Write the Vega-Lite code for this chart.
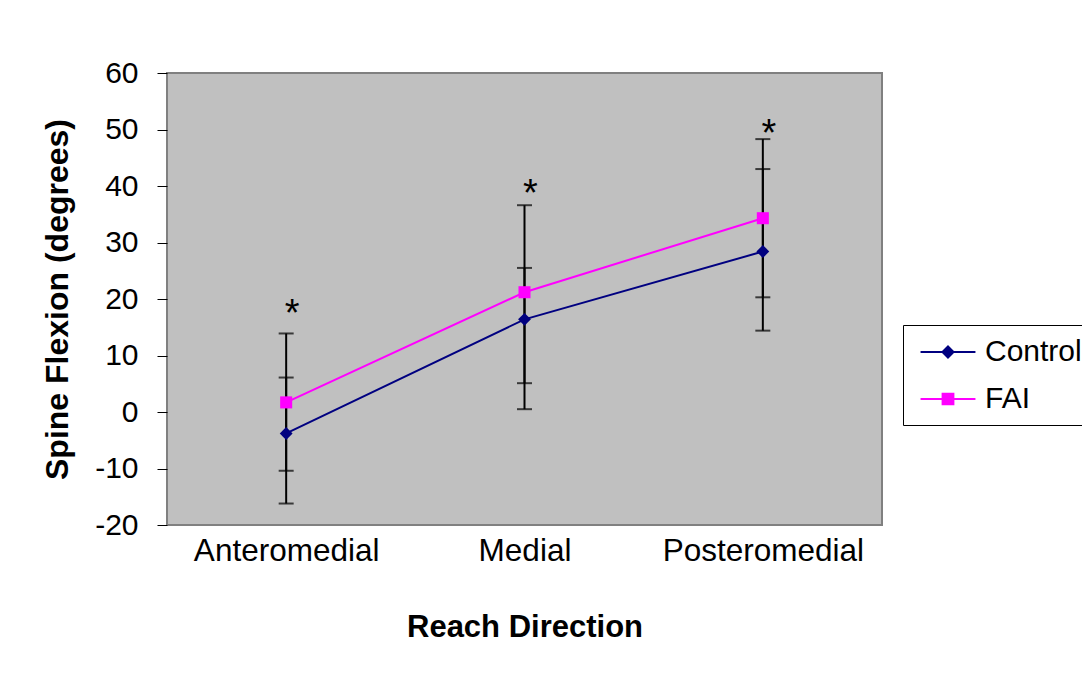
{
  "$schema": "https://vega.github.io/schema/vega-lite/v6.json",
  "width": 715,
  "height": 452,
  "autosize": {"type": "none"},
  "padding": {"left": 167, "top": 73, "right": 200, "bottom": 167},
  "background": "white",
  "config": {
    "font": "Liberation Sans",
    "view": {"fill": "#C0C0C0", "stroke": "#808080", "strokeWidth": 2},
    "axis": {
      "labelFont": "Liberation Sans",
      "titleFont": "Liberation Sans",
      "labelColor": "black",
      "titleColor": "black",
      "grid": false,
      "labelLimit": 0
    },
    "legend": {
      "orient": "none",
      "legendX": 736,
      "legendY": 252,
      "labelFontSize": 30,
      "labelFont": "Liberation Sans",
      "labelColor": "black",
      "strokeColor": "black",
      "fillColor": "white",
      "padding": 11,
      "symbolSize": 900,
      "symbolStrokeWidth": 2,
      "symbolOpacity": 1,
      "rowPadding": 16,
      "labelOffset": 39
    }
  },
  "datasets": {
    "means": [
      {"direction": "Anteromedial", "group": "Control", "mean": -3.8, "lo": -16.2, "hi": 6.1},
      {"direction": "Anteromedial", "group": "FAI", "mean": 1.7, "lo": -10.4, "hi": 13.9},
      {"direction": "Medial", "group": "Control", "mean": 16.4, "lo": 0.5, "hi": 25.5},
      {"direction": "Medial", "group": "FAI", "mean": 21.2, "lo": 5.1, "hi": 36.6},
      {"direction": "Posteromedial", "group": "Control", "mean": 28.4, "lo": 14.4, "hi": 43.0},
      {"direction": "Posteromedial", "group": "FAI", "mean": 34.3, "lo": 20.3, "hi": 48.3}
    ],
    "stars": [
      {"direction": "Anteromedial", "sig": "*", "at": 18.6},
      {"direction": "Medial", "sig": "*", "at": 39.9},
      {"direction": "Posteromedial", "sig": "*", "at": 50.4}
    ]
  },
  "data": {"name": "means"},
  "encoding": {
    "x": {
      "field": "direction",
      "type": "nominal",
      "scale": {"type": "point", "padding": 0.5, "domain": ["Anteromedial", "Medial", "Posteromedial"]},
      "axis": {
        "title": "Reach Direction",
        "labelAngle": 0,
        "labelFontSize": 31.5,
        "labelPadding": 10,
        "ticks": false,
        "domain": false,
        "titleFontSize": 31,
        "titleFontWeight": "bold",
        "titlePadding": 46
      }
    }
  },
  "layer": [
    {
      "mark": {"type": "rule", "color": "black", "strokeWidth": 2},
      "encoding": {
        "y": {
          "field": "lo",
          "type": "quantitative",
          "scale": {"domain": [-20, 60], "nice": false, "zero": false},
          "axis": {
            "title": "Spine Flexion (degrees)",
            "values": [-20, -10, 0, 10, 20, 30, 40, 50, 60],
            "labelExpr": "toString(datum.value)",
            "labelFontSize": 30,
            "labelPadding": 19,
            "tickSize": 10,
            "tickColor": "black",
            "tickWidth": 1,
            "domain": false,
            "titleFontSize": 32,
            "titleFontWeight": "bold",
            "titlePadding": 20
          }
        },
        "y2": {"field": "hi"}
      }
    },
    {
      "mark": {"type": "tick", "color": "black", "size": 15, "thickness": 2},
      "encoding": {"y": {"field": "lo", "type": "quantitative"}}
    },
    {
      "mark": {"type": "tick", "color": "black", "size": 15, "thickness": 2},
      "encoding": {"y": {"field": "hi", "type": "quantitative"}}
    },
    {
      "mark": {"type": "line", "strokeWidth": 2},
      "encoding": {
        "y": {"field": "mean", "type": "quantitative"},
        "stroke": {
          "field": "group",
          "type": "nominal",
          "scale": {"domain": ["Control", "FAI"], "range": ["#000080", "#FF00FF"]},
          "legend": {"title": null}
        }
      }
    },
    {
      "transform": [{"filter": "datum.group === 'Control'"}],
      "mark": {"type": "point", "shape": "diamond", "size": 165, "filled": true, "opacity": 1},
      "encoding": {
        "y": {"field": "mean", "type": "quantitative"},
        "fill": {
          "field": "group",
          "type": "nominal",
          "scale": {"domain": ["Control", "FAI"], "range": ["#000080", "#FF00FF"]},
          "legend": {"title": null}
        }
      }
    },
    {
      "transform": [{"filter": "datum.group === 'FAI'"}],
      "mark": {"type": "point", "shape": "square", "size": 145, "filled": true, "opacity": 1},
      "encoding": {
        "y": {"field": "mean", "type": "quantitative"},
        "fill": {"field": "group", "type": "nominal", "legend": {"title": null}}
      }
    },
    {
      "mark": {"type": "point", "filled": true, "opacity": 0, "size": 900, "strokeWidth": 2},
      "encoding": {
        "y": {"field": "mean", "type": "quantitative"},
        "fill": {"field": "group", "type": "nominal", "legend": {"title": null}},
        "stroke": {"field": "group", "type": "nominal", "legend": {"title": null}},
        "shape": {
          "field": "group",
          "type": "nominal",
          "scale": {
            "domain": ["Control", "FAI"],
            "range": [
              "M-0.63,0H3.03M1.2,-0.37L1.57,0L1.2,0.37L0.83,0Z",
              "M-0.63,0H3.03M0.84,-0.35H1.56V0.35H0.84Z"
            ]
          },
          "legend": {"title": null}
        }
      }
    },
    {
      "data": {"name": "stars"},
      "mark": {"type": "text", "fontSize": 38, "font": "Liberation Sans", "color": "black", "baseline": "alphabetic", "dx": 6, "dy": 19},
      "encoding": {
        "y": {"field": "at", "type": "quantitative"},
        "text": {"field": "sig"}
      }
    }
  ]
}
